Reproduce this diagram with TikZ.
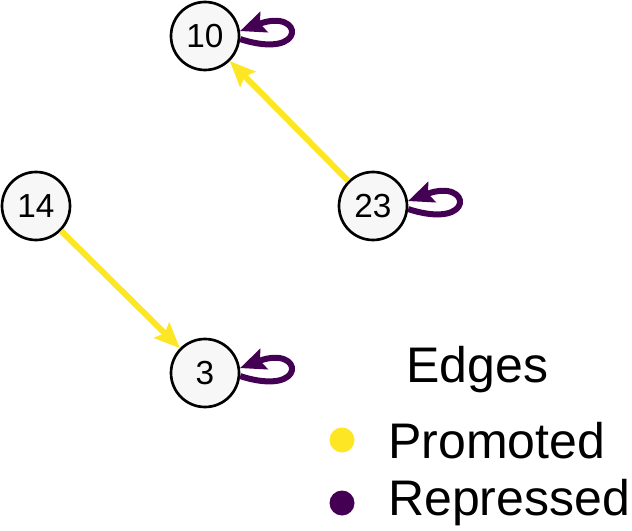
\documentclass[tikz,border=0pt]{standalone}
\usepackage{fontspec}
\setmainfont{Liberation Sans}
\usetikzlibrary{arrows.meta}
\begin{document}
\begin{tikzpicture}[x=0.75pt,y=-0.75pt]

  \definecolor{promcol}{HTML}{FDE725}
  \definecolor{repcol}{HTML}{440154}
  \definecolor{nodecol}{HTML}{F7F7F7}

  \tikzset{
      genestl/.style={circle,draw=black,line width=2pt,fill=nodecol,
        minimum size=51pt,inner sep=0pt,font=\fontsize{25}{28}\selectfont},
      promstl/.style={draw=promcol,line width=4.5pt,
        -{Stealth[length=19pt,width=16pt,inset=3pt]}},
      repstl/.style={draw=repcol,line width=4.5pt,
        -{Stealth[length=19pt,width=16pt,inset=3pt]}},
      legstl/.style={font=\fontsize{37.5}{40}\selectfont,anchor=base west,inner sep=0pt},
    }

  \useasboundingbox (0,0) rectangle (632,531);

  % genes
  \node[genestl] (g10) at (205,36) {10};
  \node[genestl] (g14) at (36,206) {14};
  \node[genestl] (g23) at (373,206) {23};
  \node[genestl] (g3) at (205,373) {3};

  % promoted edges
  \draw[promstl] (g23) -- (g10);
  \draw[promstl] (g14) -- (g3);

  % self repression
  \draw[repstl] (g10.-5) .. controls +(68,22) and +(64,-24) .. (g10.8);
  \draw[repstl] (g23.-5) .. controls +(68,22) and +(64,-24) .. (g23.8);
  \draw[repstl] (g3.-5) .. controls +(68,22) and +(64,-24) .. (g3.8);

  %% legend
  \node[legstl] (legtitle) at (406,382) {Edges};
  \fill[promcol] (342,440) circle (12.5);
  \node[legstl] (legprom) at (388,458) {Promoted};
  \fill[repcol] (342,503) circle (12.5);
  \node[legstl] (legrep) at (388,515) {Repressed};

\end{tikzpicture}
\end{document}
